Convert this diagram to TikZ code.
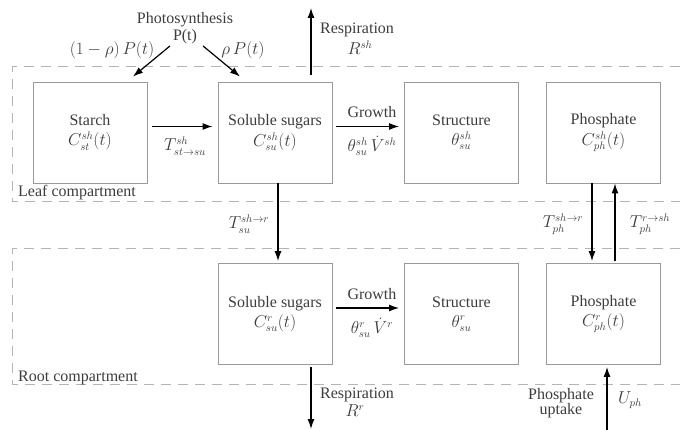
\documentclass[tikz,border=0pt]{standalone}
\usepackage{fontspec}
\setmainfont{Liberation Serif}
\usetikzlibrary{arrows.meta}
\definecolor{txtgray}{HTML}{3C3C3C}
\definecolor{boxgray}{HTML}{9A9A9A}
\definecolor{dashgray}{HTML}{B4B4B4}
\tikzset{
  pool/.style={draw=boxgray,line width=0.9pt,minimum width=114pt,minimum height=101pt,
    align=center,text=txtgray,inner sep=0pt},
  flow/.style={-{Latex[length=10pt,width=7pt]},line width=1.2pt},
  lbl/.style={text=txtgray,align=center,inner sep=1pt},
  compart/.style={draw=dashgray,line width=1pt,dash pattern=on 10pt off 7pt}
}
\begin{document}
\begin{tikzpicture}[x=1pt,y=-1pt,font=\fontsize{16}{17}\selectfont]
				\useasboundingbox (0,0) rectangle (680,430);
				% compartments
				\draw[compart] (680,67)--(12,67)--(12,202)--(680,202);
				\draw[compart] (680,249)--(12,249)--(12,384)--(680,384);
				\node[lbl,anchor=base west] (leaflbl) at (17,197){Leaf compartment};
				\node[lbl,anchor=base west] (rootlbl) at (17,381){Root compartment};
				% leaf pools
				\node[pool] (starch) at (90,132.5){Starch\\[3pt]$C^{sh}_{st}(t)$};
				\node[pool] (sugsh) at (275,132.5){Soluble sugars\\[3pt]$C^{sh}_{su}(t)$};
				\node[pool] (strsh) at (461.5,132.5){Structure\\[3pt]$\theta^{sh}_{su}$};
				\node[pool] (phsh) at (603.5,132.5){Phosphate\\[3pt]$C^{sh}_{ph}(t)$};
				% root pools
				\node[pool] (sugr) at (275,314){Soluble sugars\\[3pt]$C^{r}_{su}(t)$};
				\node[pool] (strr) at (461.5,314){Structure\\[3pt]$\theta^{r}_{su}$};
				\node[pool] (phr) at (603.5,314){Phosphate\\[3pt]$C^{r}_{ph}(t)$};
				% photosynthesis
				\node[lbl] (photo) at (185,28){Photosynthesis\\P(t)};
				\draw[flow] ([xshift=-15pt,yshift=-1pt]photo.south)--([xshift=43pt,yshift=5pt]starch.north);
				\draw[flow] ([xshift=18pt,yshift=-1pt]photo.south)--([xshift=-35pt,yshift=5pt]sugsh.north);
				\node[lbl] (frac1) at (112,50){$(1-\rho)\,P(t)$};
				\node[lbl] (frac2) at (243,50){$\rho\,P(t)$};
				% leaf fluxes
				\coordinate (respsh) at (311,8);
				\draw[flow,shorten <=7pt] (sugsh.north -| respsh)--(respsh);
				\node[lbl,anchor=west] (resplbl) at (319,30){Respiration};
				\node[lbl] (rsh) at (360,48){$R^{sh}$};
				\draw[flow,shorten <=5pt,shorten >=5pt] ([yshift=6pt]starch.east)--([yshift=6pt]sugsh.west);
				\node[lbl] (tstsu) at (185,146){$T^{sh}_{st\rightarrow su}$};
				\draw[flow,shorten <=4pt,shorten >=5pt] ([yshift=6pt]sugsh.east)--([yshift=6pt]strsh.west);
				\node[lbl] (grsh) at (372,112){Growth};
				\node[lbl] (vsh) at (372,146){$\theta^{sh}_{su}\,\dot{V}^{sh}$};
				% leaf to root
				\draw[flow,shorten >=2pt] ([xshift=3pt]sugsh.south)--([xshift=3pt]sugr.north);
				\node[lbl] (tsu) at (249,224){$T^{sh\rightarrow r}_{su}$};
				\draw[flow,shorten >=2pt] ([xshift=-11.5pt]phsh.south)--([xshift=-11.5pt]phr.north);
				\draw[flow,shorten <=2pt] ([xshift=11.5pt]phr.north)--([xshift=11.5pt]phsh.south);
				\node[lbl] (tphd) at (563,224){$T^{sh\rightarrow r}_{ph}$};
				\node[lbl] (tphu) at (650,224){$T^{r\rightarrow sh}_{ph}$};
				% root fluxes
				\draw[flow,shorten <=4pt,shorten >=5pt] ([yshift=6pt]sugr.east)--([yshift=6pt]strr.west);
				\node[lbl] (grr) at (372,294){Growth};
				\node[lbl] (vr) at (372,328){$\theta^{r}_{su}\,\dot{V}^{r}$};
				\coordinate (respr) at (311,429);
				\draw[flow,shorten <=2pt] (sugr.south -| respr)--(respr);
				\node[lbl,anchor=west] (resprlbl) at (319,395){Respiration};
				\node[lbl] (rr) at (355,411){$R^{r}$};
				\coordinate (uptk) at (607,430);
				\draw[flow,shorten >=2pt] (uptk)--(phr.south -| uptk);
				\node[lbl] (uplbl) at (561,403){Phosphate\\[-2pt]uptake};
				\node[lbl] (uph) at (630,400){$U_{ph}$};
			\end{tikzpicture}
\end{document}
